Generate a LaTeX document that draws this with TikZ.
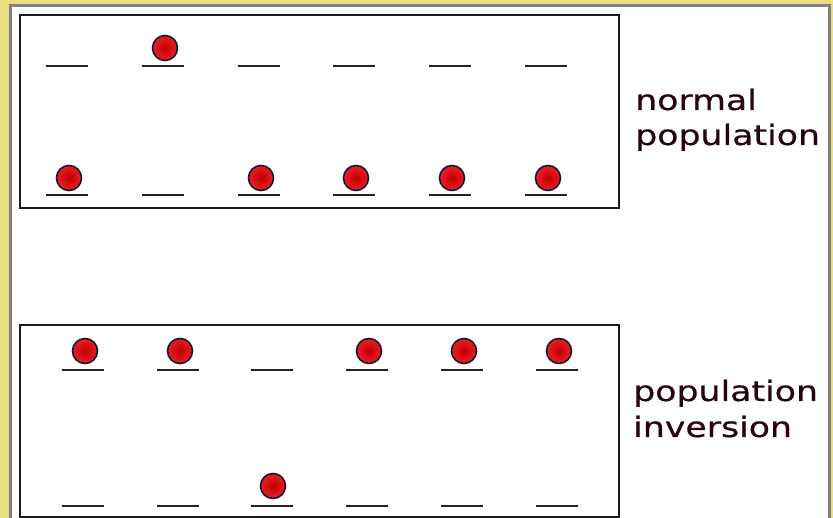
\documentclass[tikz,border=0pt]{standalone}
\usepackage{fontspec}
\newfontfamily\lblfont[FakeStretch=1.24,FakeBold=0.6]{DejaVu Sans}
\definecolor{frameyellow}{RGB}{234,222,130}
\definecolor{framegray}{RGB}{128,128,128}
\definecolor{boxcol}{RGB}{25,25,25}
\definecolor{levelcol}{RGB}{35,35,35}
\definecolor{ballcore}{RGB}{190,0,0}
\definecolor{ballrim}{RGB}{235,30,35}
\definecolor{ballline}{RGB}{20,20,50}
\definecolor{textcol}{RGB}{40,5,12}
\begin{document}
\begin{tikzpicture}[x=1pt,y=-1pt,
  boxframe/.style={draw=boxcol,line width=2.3pt},
  levelline/.style={draw=levelcol,line width=2.5pt},
  ball/.style={circle,minimum size=25pt,inner sep=0pt,draw=ballline,line width=1.6pt,
    inner color=ballcore,outer color=ballrim},
  lbl/.style={anchor=base west,inner sep=0pt,text=textcol,font=\lblfont\fontsize{28}{32}\selectfont}]
\useasboundingbox (0,0) rectangle (833,518);
\fill[frameyellow] (0,0) rectangle (833,518);
\begin{scope}
\clip (0,0) rectangle (833,518);
\draw[framegray,line width=3pt,fill=white] (10.5,5.5) rectangle (829.5,540);
\end{scope}
% top box: normal population
\draw[boxframe] (20,15) rectangle (619,208);
\foreach \x [count=\i] in {67,163,259,354,450,546}{
  \coordinate (tu\i) at (\x,66);
  \coordinate (tl\i) at (\x,195);
  \draw[levelline] ([xshift=-21pt]tu\i) -- ([xshift=21pt]tu\i);
  \draw[levelline] ([xshift=-21pt]tl\i) -- ([xshift=21pt]tl\i);
}
\node[ball] (tb2) at ([yshift=18pt,xshift=2pt]tu2) {};
\foreach \i in {1,3,4,5,6}{
  \node[ball] (tbl\i) at ([yshift=17pt,xshift=2pt]tl\i) {};
}
\node[lbl] (n1) at (635,110) {normal};
\node[lbl] (n2) at (635,145) {population};
% bottom box: population inversion
\draw[boxframe] (20,325) rectangle (619,517);
\foreach \x [count=\i] in {83,178,272,367,462,557}{
  \coordinate (bu\i) at (\x,370);
  \coordinate (bl\i) at (\x,506);
  \draw[levelline] ([xshift=-21pt]bu\i) -- ([xshift=21pt]bu\i);
  \draw[levelline] ([xshift=-21pt]bl\i) -- ([xshift=21pt]bl\i);
}
\foreach \i in {1,2,4,5,6}{
  \node[ball] (bbu\i) at ([yshift=19pt,xshift=2pt]bu\i) {};
}
\node[ball] (bbl3) at ([yshift=20pt,xshift=1pt]bl3) {};
\node[lbl] (p1) at (633,401) {population};
\node[lbl] (p2) at (633,437) {inversion};
\end{tikzpicture}
\end{document}
